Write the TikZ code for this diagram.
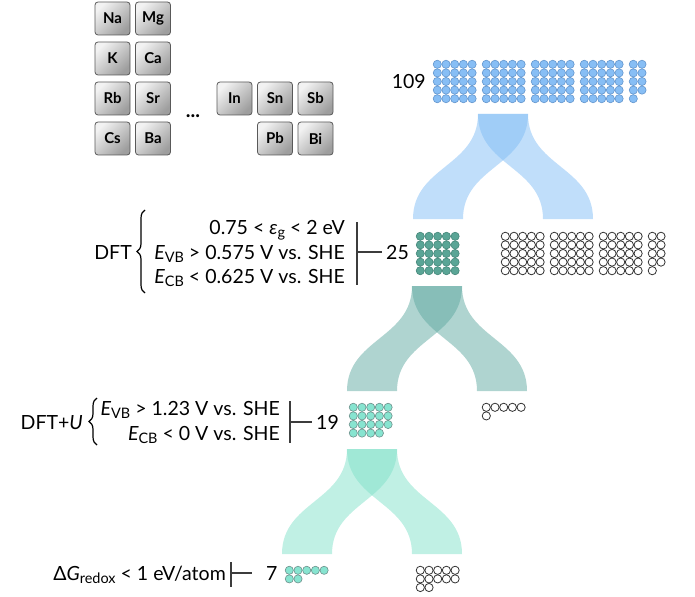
\documentclass[tikz,border=0pt]{standalone}
\usepackage{fontspec}
\setmainfont{Lato}
\usetikzlibrary{decorations.pathreplacing}
\definecolor{bluefill}{RGB}{135,190,245}
\definecolor{bluedraw}{RGB}{100,150,205}
\definecolor{tealfill}{RGB}{90,165,150}
\definecolor{tealdraw}{RGB}{70,135,122}
\definecolor{mintfill}{RGB}{135,228,208}
\definecolor{mintdraw}{RGB}{110,145,140}
\definecolor{blueband}{RGB}{129,189,245}
\definecolor{tealband}{RGB}{95,169,161}
\definecolor{mintband}{RGB}{129,225,201}
\definecolor{barcol}{RGB}{60,60,60}
\newcommand{\sub}[1]{\raisebox{-0.35ex}{\fontsize{14.5}{14.5}\selectfont #1}}
% column-major grid in blocks of 5 columns (#3 rows per column)
\newcommand{\dotgrid}[5]{%
  \foreach \di in {1,...,#4}{%
    \pgfmathtruncatemacro{\dcol}{div(\di-1,#3)}%
    \pgfmathtruncatemacro{\drow}{mod(\di-1,#3)}%
    \pgfmathsetmacro{\dotx}{#1+\dcol*8.7+div(\dcol,5)*5.5}%
    \pgfmathsetmacro{\doty}{#2+\drow*8.6}%
    \path[#5] (\dotx,\doty) circle[radius=4.1bp];%
  }%
}
% row-major grid, 5 per row
\newcommand{\dotrows}[4]{%
  \foreach \di in {1,...,#3}{%
    \pgfmathtruncatemacro{\dcol}{mod(\di-1,5)}%
    \pgfmathtruncatemacro{\drow}{div(\di-1,5)}%
    \pgfmathsetmacro{\dotx}{#1+\dcol*8.7}%
    \pgfmathsetmacro{\doty}{#2+\drow*8.6}%
    \path[#4] (\dotx,\doty) circle[radius=4.1bp];%
  }%
}
\newcommand{\band}[7]{%
  \fill[#1] (#2,#4) .. controls (#2,{(#4+#7)/2}) and (#5,{(#4+#7)/2}) .. (#5,#7)
     -- (#6,#7) .. controls (#6,{(#4+#7)/2}) and (#3,{(#4+#7)/2}) .. (#3,#4) -- cycle;%
}
\tikzset{
  elem/.style={draw=black!65, line width=0.8bp, rounded corners=3bp,
    minimum width=35bp, minimum height=33bp, inner sep=0pt,
    shading=axis, top color=black!5, bottom color=black!38, shading angle=45,
    font=\fontsize{15}{15}\selectfont\bfseries, text=black},
  lbl/.style={font=\fontsize{19.6}{24}\selectfont, inner sep=0pt, text=black},
  bracestyle/.style={decorate, decoration={brace, amplitude=8bp}, line width=1.2bp, draw=black},
  barstyle/.style={draw=barcol, line width=1.2bp},
  bluedot/.style={fill=bluefill, draw=bluedraw, line width=0.6bp},
  tealdot/.style={fill=tealfill, draw=tealdraw, line width=0.6bp},
  mintdot/.style={fill=mintfill, draw=mintdraw, line width=0.6bp},
  emptydot/.style={fill=white, draw=black!80, line width=0.8bp},
  bandblue/.style={fill=blueband, fill opacity=0.5},
  bandteal/.style={fill=tealband, fill opacity=0.5},
  bandmint/.style={fill=mintband, fill opacity=0.5},
}
\begin{document}
\begin{tikzpicture}[x=1bp,y=-1bp]
\useasboundingbox (0,0) rectangle (695,597);
% element tiles
\node[elem] (Na) at (112.5,18.5) {Na};
\node[elem] (Mg) at (153,18.5) {Mg};
\node[elem] (K) at (112.5,58.5) {K};
\node[elem] (Ca) at (153,58.5) {Ca};
\node[elem] (Rb) at (112.5,98.5) {Rb};
\node[elem] (Sr) at (153,98.5) {Sr};
\node[elem] (Cs) at (112.5,138.5) {Cs};
\node[elem] (Ba) at (153,138.5) {Ba};
\node[elem] (In) at (234.5,98.5) {In};
\node[elem] (Sn) at (275,98.5) {Sn};
\node[elem] (Sb) at (315.5,98.5) {Sb};
\node[elem] (Pb) at (275,138.5) {Pb};
\node[elem] (Bi) at (315.5,138.5) {Bi};
\node[font=\fontsize{20}{20}\selectfont\bfseries, inner sep=0pt] (dots) at (193,116) {...};
% bands
\band{bandblue}{478}{528}{114}{413}{463}{219}
\band{bandblue}{478}{528}{114}{543}{593}{219}
\band{bandteal}{412}{462}{286}{347}{397}{391}
\band{bandteal}{412}{462}{286}{477}{527}{391}
\band{bandmint}{347}{397}{449}{282}{332}{554}
\band{bandmint}{347}{397}{449}{412}{462}{554}
% dot grids
\dotgrid{437.3}{64.3}{5}{109}{bluedot}
\dotgrid{420.3}{236.3}{5}{25}{tealdot}
\dotgrid{505.3}{236.3}{5}{84}{emptydot}
\dotrows{353.3}{407.3}{19}{mintdot}
\dotrows{486.3}{407.3}{6}{emptydot}
\dotrows{289.3}{570.3}{7}{mintdot}
\dotrows{420.3}{570.3}{12}{emptydot}
% counts
\node[lbl, anchor=base east] (t109) at (426,89) {109};
\node[lbl, anchor=base west] (t25) at (386,259) {25};
\node[lbl, anchor=base west] (t19) at (316,429) {19};
\node[lbl, anchor=base west] (t7) at (266,580) {7};
% DFT criteria
\node[lbl, anchor=base east] (dft) at (132,259) {DFT};
\node[lbl, anchor=base east] (c1) at (345,234) {0.75 < {\itshape ε}\sub{g} < 2 eV};
\node[lbl, anchor=base east] (c2) at (345,259) {{\itshape E}\sub{VB} > 0.575 V vs. SHE};
\node[lbl, anchor=base east] (c3) at (345,283) {{\itshape E}\sub{CB} < 0.625 V vs. SHE};
\draw[bracestyle] (145,293) -- (145,210);
\coordinate (b1t) at (357,222);
\coordinate (b1b) at (357,285);
\coordinate (b1m) at (357,252);
\coordinate (b1e) at (382,252);
\draw[barstyle] (b1t) -- (b1b);
\draw[barstyle] (b1m) -- (b1e);
% DFT+U criteria
\node[lbl, anchor=base east] (dftu) at (83,429) {DFT+{\itshape U}};
\node[lbl, anchor=base east] (u1) at (280,415) {{\itshape E}\sub{VB} > 1.23 V vs. SHE};
\node[lbl, anchor=base east] (u2) at (280,440) {{\itshape E}\sub{CB} < 0 V vs. SHE};
\draw[bracestyle] (97,445) -- (97,398);
\coordinate (b2t) at (290,401);
\coordinate (b2b) at (290,443);
\coordinate (b2m) at (290,422);
\coordinate (b2e) at (312,422);
\draw[barstyle] (b2t) -- (b2b);
\draw[barstyle] (b2m) -- (b2e);
% redox criterion
\node[lbl, anchor=base east] (dg) at (226,580) {Δ{\itshape G}\sub{redox} < 1 eV/atom};
\coordinate (b3t) at (231,562);
\coordinate (b3b) at (231,587);
\coordinate (b3m) at (231,573);
\coordinate (b3e) at (252,573);
\draw[barstyle] (b3t) -- (b3b);
\draw[barstyle] (b3m) -- (b3e);
\end{tikzpicture}
\end{document}
